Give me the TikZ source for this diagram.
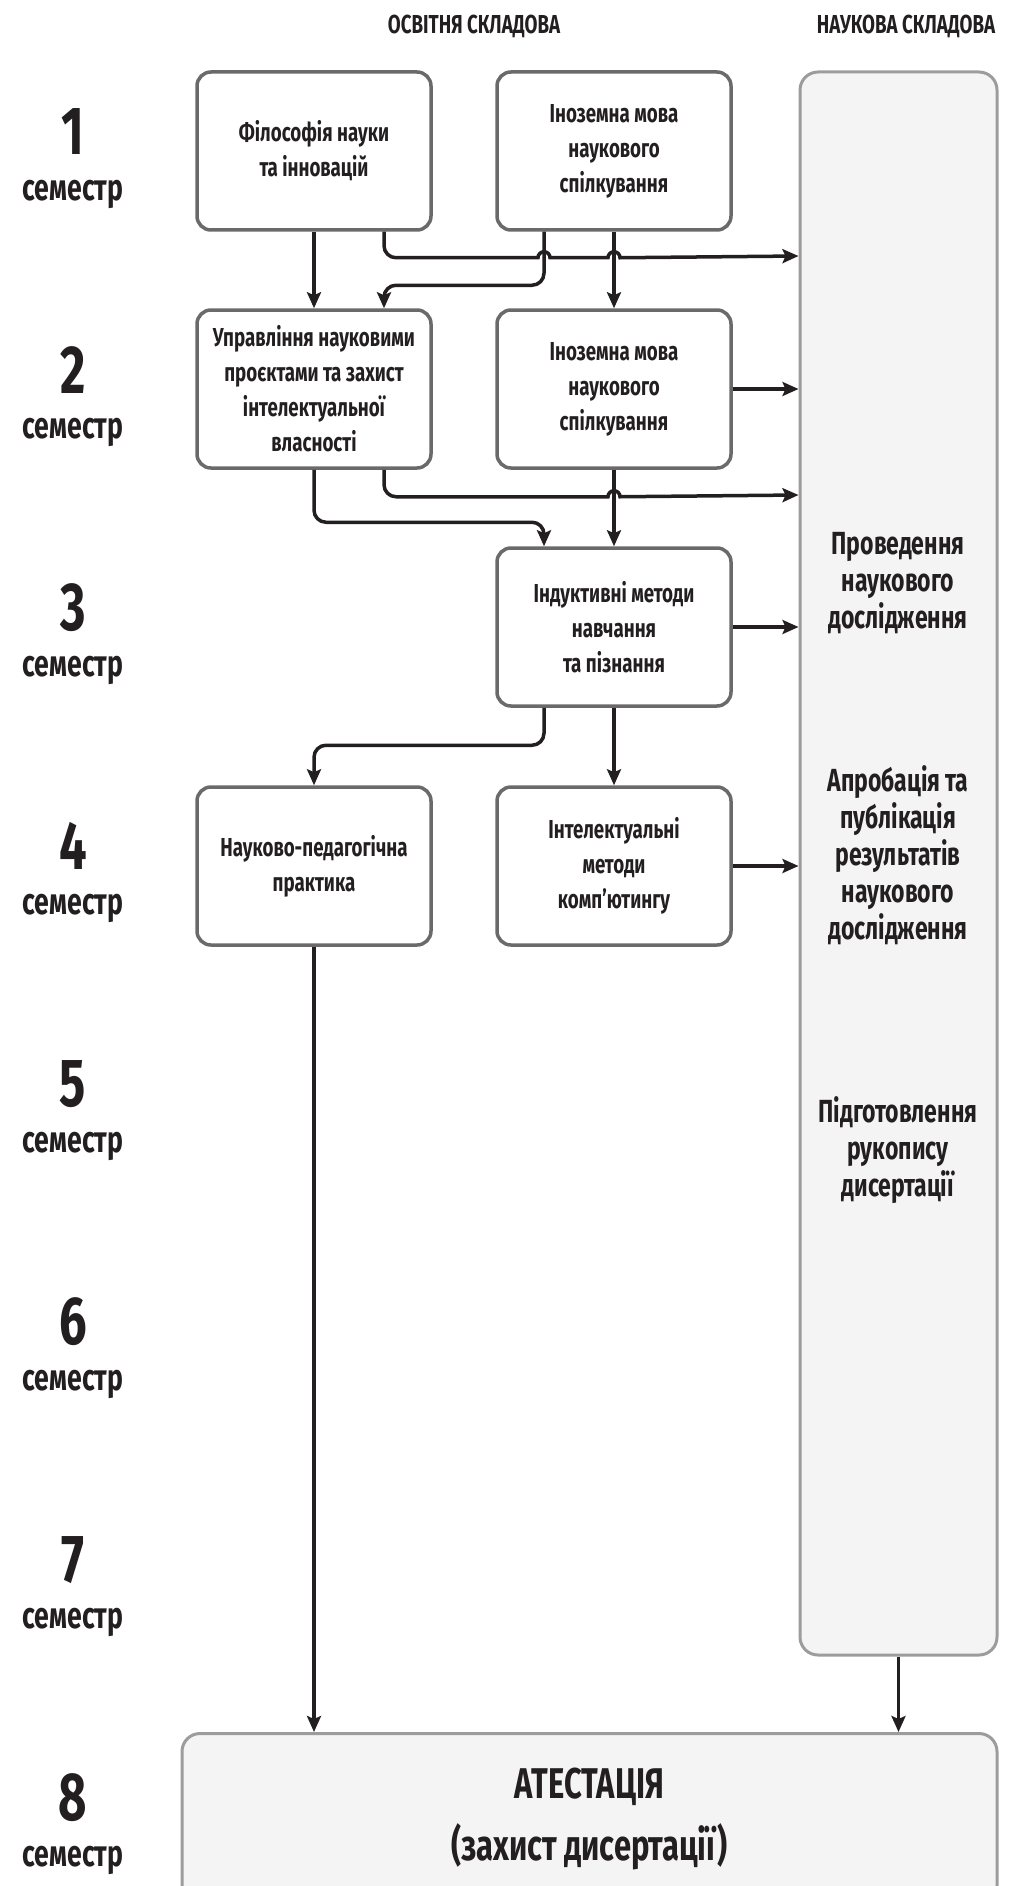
\documentclass[tikz,border=0pt]{standalone}
\usepackage{fontspec}
\setmainfont{Fira Sans}[FakeStretch=0.72]
\usetikzlibrary{positioning,calc,arrows.meta}
\definecolor{ink}{HTML}{231F20}
\definecolor{boxgray}{HTML}{6A6A6A}
\definecolor{panelgray}{HTML}{9C9C9C}
\definecolor{panelfill}{HTML}{F4F4F4}
\tikzset{
	box/.style={draw=boxgray, line width=3.5pt, rounded corners=14pt, fill=white, text=ink,
		minimum width=234pt, minimum height=158pt, align=center, inner sep=2pt,
		font=\fontsize{26}{35}\selectfont\bfseries},
	panel/.style={draw=panelgray, line width=3pt, rounded corners=18pt, fill=panelfill},
	paneltext/.style={align=center, text=ink, font=\fontsize{32}{37}\selectfont\bfseries},
	conn/.style={line width=3.5pt, draw=ink, -{Stealth[length=16pt,width=14pt,inset=3pt]}},
	semnum/.style={text=ink, font=\fontsize{68}{68}\selectfont\bfseries},
	semword/.style={text=ink, font=\fontsize{37}{37}\selectfont\bfseries},
	colhead/.style={text=ink, font=\fontsize{26}{30}\selectfont\bfseries}
}

\begin{document}
\begin{tikzpicture}[x=1pt, y=-1pt]
	\useasboundingbox (0,0) rectangle (1009,1886);

	% headers
	\node[colhead] (osvh) at (474,26) {ОСВІТНЯ СКЛАДОВА};
	\node[colhead] (naukh) at (906,26) {НАУКОВА СКЛАДОВА};

	% semesters
	\foreach \i in {1,...,8}{
		\node[semnum] (n\i) at (73,{132+238*(\i-1)}) {\i};
		\node[semword] (s\i) at (73,{194+238*(\i-1)}) {семестр};
	}

	% right panel and the final box
	\node[panel, minimum width=197pt, minimum height=1583pt] (naukova) at (898.5,863.5) {};
	\node[paneltext] (prov) at (898,583) {Проведення\\наукового\\дослідження};
	\node[paneltext] (aprob) at (898,855) {Апробація та\\публікація\\результатів\\наукового\\дослідження};
	\node[paneltext] (pidg) at (898,1150) {Підготовлення\\рукопису\\дисертації};
	\node[panel, minimum width=815pt, minimum height=170pt, anchor=north, align=center, text=ink,
		font=\fontsize{43}{62}\selectfont\bfseries] (atest) at (589.5,1732) {АТЕСТАЦІЯ\\(захист дисертації)};

	% courses
	\node[box] (fil) at (314,151) {Філософія науки\\та інновацій};
	\node[box] (ino1) at (614,151) {Іноземна мова\\наукового\\спілкування};
	\node[box] (upr) at (314,389) {Управління науковими\\проєктами та захист\\інтелектуальної\\власності};
	\node[box] (ino2) at (614,389) {Іноземна мова\\наукового\\спілкування};
	\node[box] (ind) at (614,627) {Індуктивні методи\\навчання\\та пізнання};
	\node[box] (nped) at (314,866) {Науково-педагогічна\\практика};
	\node[box] (intel) at (614,866) {Інтелектуальні\\методи\\комп'ютингу};

	% straight links
	\draw[conn] (fil.south) -- (upr.north);
	\draw[conn] (ino1.south) -- (ino2.north);
	\draw[conn] (ino2.south) -- (ind.north);
	\draw[conn] (ind.south) -- (intel.north);
	\draw[conn] (ino2.east) -- (ino2.east -| naukova.west);
	\draw[conn] (ind.east) -- (ind.east -| naukova.west);
	\draw[conn] (intel.east) -- (intel.east -| naukova.west);
	\draw[conn] (nped.south) -- (nped.south |- atest.north);
	\draw[conn] (naukova.south) -- (naukova.south |- atest.north);

	% bent links
	\draw[conn, rounded corners=12pt] ($(ino1.south)+(-70,0)$) |- ($(upr.north)+(70,-23)$) -- ($(upr.north)+(70,0)$);
	\draw[conn, rounded corners=12pt] (upr.south) |- ($(ind.north)+(-70,-24)$) -- ($(ind.north)+(-70,0)$);
	\draw[conn, rounded corners=12pt] ($(ind.south)+(-70,0)$) |- ($(nped.north)+(0,-40)$) -- (nped.north);

	% links with jumps
	\draw[conn] ($(fil.south)+(70,0)$) -- ++(0,14) arc[start angle=180, end angle=270, radius=12pt]
		-- ($(ino1.south)+(-76,26)$) arc[start angle=180, end angle=0, radius=6pt]
		-- ($(ino1.south)+(-6,26)$) arc[start angle=180, end angle=0, radius=6pt]
		-- (naukova.west |- 0,256);
	\draw[conn] ($(upr.south)+(70,0)$) -- ++(0,15) arc[start angle=180, end angle=270, radius=12pt]
		-- ($(ino2.south)+(-6,27)$) arc[start angle=180, end angle=0, radius=6pt]
		-- (naukova.west |- 0,495);
\end{tikzpicture}
\end{document}
